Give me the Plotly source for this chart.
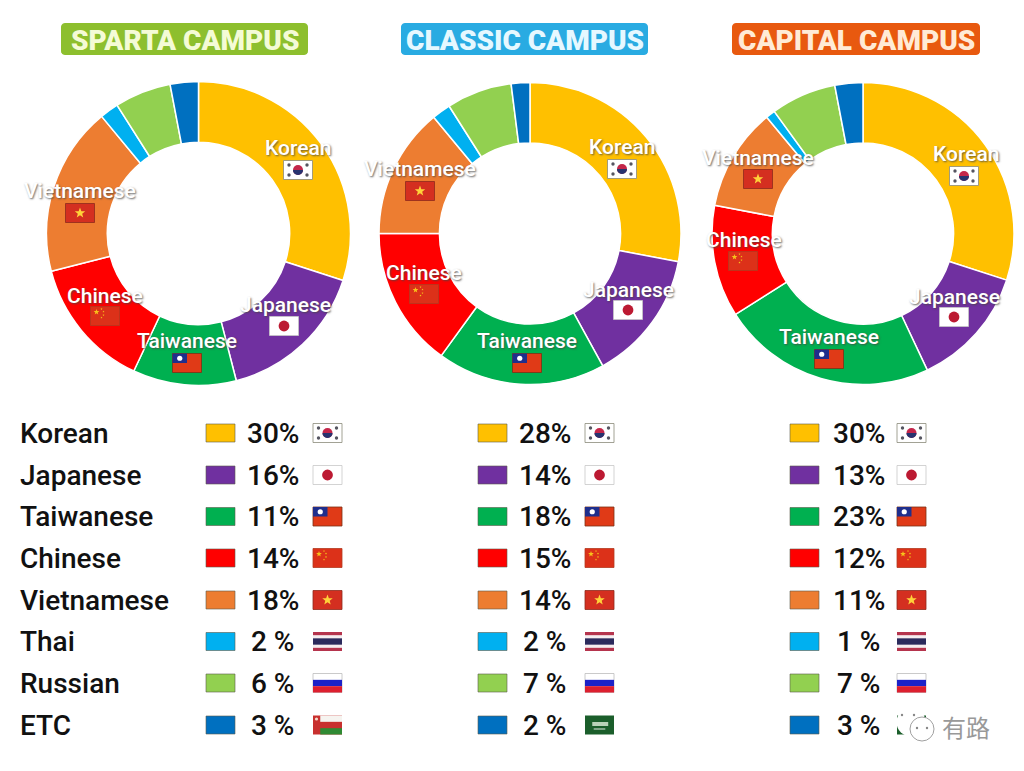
import math
import plotly.graph_objects as go

W, H = 1024, 771

languages = ["Korean", "Japanese", "Taiwanese", "Chinese", "Vietnamese", "Thai", "Russian", "ETC"]
colors = ["#FFC000", "#7030A0", "#00B050", "#FF0000", "#ED7D31", "#00B0F0", "#92D050", "#0070C0"]
campus_names = ["SPARTA CAMPUS", "CLASSIC CAMPUS", "CAPITAL CAMPUS"]
badge_colors = ["#8DBF2E", "#29ABE2", "#E8590F"]
badge_text = ["#F4FBD6", "#E6F8FF", "#FFEBD6"]
sparta = [30, 16, 11, 14, 18, 2, 6, 3]
classic = [28, 14, 18, 15, 14, 2, 7, 2]
capital = [30, 13, 23, 12, 11, 1, 7, 3]
campus_values = [sparta, classic, capital]
etc_flags = ["oman", "saudi", "saudi"]
flag_keys = ["korea", "japan", "taiwan", "china", "vietnam", "thailand", "russia"]

# layout constants (pixels)
centers = [(198.5, 233.5, 152), (530, 233.5, 151), (863, 233.5, 151)]
badges = [(61, 308), (401, 648), (732, 980)]
swatch_x = [206, 478, 790]
pct_x = [273, 545, 859]
flag_x = [327.5, 599.5, 911.5]
row_y = [433, 475, 516.5, 558, 600, 641.5, 683, 725]
donut_labels = [
    [(298, 148), (285, 305), (187, 341), (105, 296), (80, 191)],
    [(622, 147), (628, 290), (527, 341), (424, 273), (420, 169)],
    [(966, 154), (954, 297), (829, 337), (744, 240), (758, 158)],
]
donut_flags = [
    [(298, 170), (284, 326), (187, 363), (105, 316), (80, 213)],
    [(622, 169), (628, 310), (527, 363), (424, 294), (420, 191)],
    [(964, 176), (954, 317), (829, 359), (743, 261), (758, 179)],
]

px = lambda x: x / W
py = lambda y: 1 - y / H
shapes = []
annotations = []


def rect(x0, y0, x1, y1, fill, line=None, lw=0.8):
    shapes.append(dict(type="rect", xref="paper", yref="paper", x0=px(x0), x1=px(x1), y0=py(y0), y1=py(y1),
                       fillcolor=fill, line=dict(color=line or fill, width=lw if line else 0)))


def circle(cx, cy, r, fill, line=None, lw=0.8):
    shapes.append(dict(type="circle", xref="paper", yref="paper", x0=px(cx - r), x1=px(cx + r),
                       y0=py(cy + r), y1=py(cy - r), fillcolor=fill,
                       line=dict(color=line or fill, width=lw if line else 0)))


def path(points, fill, close=True):
    d = "M " + " L ".join(f"{px(x):.5f},{py(y):.5f}" for x, y in points) + (" Z" if close else "")
    shapes.append(dict(type="path", xref="paper", yref="paper", path=d, fillcolor=fill, line=dict(width=0)))


def star(cx, cy, r, fill):
    pts = []
    for i in range(10):
        a = -math.pi / 2 + i * math.pi / 5
        rr = r if i % 2 == 0 else r * 0.42
        pts.append((cx + rr * math.cos(a), cy + rr * math.sin(a)))
    path(pts, fill)


def rounded(x0, y0, x1, y1, r, fill):
    pts = []
    for cx, cy, a0 in [(x1 - r, y0 + r, -90), (x1 - r, y1 - r, 0), (x0 + r, y1 - r, 90), (x0 + r, y0 + r, 180)]:
        for k in range(6):
            a = math.radians(a0 + k * 18)
            pts.append((cx + r * math.cos(a), cy + r * math.sin(a)))
    path(pts, fill)


def flag(kind, cx, cy, w=29, h=19):
    x0, x1, y0, y1 = cx - w / 2, cx + w / 2, cy - h / 2, cy + h / 2
    u = h / 19
    if kind == "korea":
        rect(x0, y0, x1, y1, "#FFFFFF", "#8A8A7A")
        for sx in (-1, 1):
            for sy in (-1, 1):
                circle(cx + sx * 9 * u, cy + sy * 5 * u, 1.7 * u, "#555560")
        circle(cx, cy, 5 * u, "#C4264A")
        path([(cx + 5 * u * math.cos(math.radians(a)), cy + 5 * u * math.sin(math.radians(a)))
              for a in range(0, 181, 15)], "#27336F")
    elif kind == "japan":
        rect(x0, y0, x1, y1, "#FFFFFF", "#C8C8C8")
        circle(cx, cy, 5.4 * u, "#BC1A32")
    elif kind == "taiwan":
        rect(x0, y0, x1, y1, "#E03A17", "#7C3014")
        rect(x0, y0, cx, cy, "#1F2E8C")
        circle(x0 + w / 4, y0 + h / 4, 2.6 * u, "#FFFFFF")
    elif kind == "china":
        rect(x0, y0, x1, y1, "#DC3119", "#B23A20")
        star(x0 + 6 * u, y0 + 5.5 * u, 3 * u, "#F7C21B")
        for dx, dy in [(11, 2.5), (13, 5), (13, 8.5), (11, 11)]:
            star(x0 + dx * u, y0 + dy * u, 1.1 * u, "#F7C21B")
    elif kind == "vietnam":
        rect(x0, y0, x1, y1, "#D42F20", "#8E2A1C")
        star(cx, cy, 5.5 * u, "#FFD23A")
    elif kind == "thailand":
        rect(x0, y0, x1, y1, "#B5344D")
        rect(x0, y0 + h / 6, x1, y1 - h / 6, "#F5EDEF")
        rect(x0, y0 + h / 3, x1, y1 - h / 3, "#2B2A5C")
    elif kind == "russia":
        rect(x0, y0, x1, y1, "#FFFFFF", "#BDBDBD")
        rect(x0, cy - h / 6, x1, cy + h / 6, "#1C22C8")
        rect(x0, cy + h / 6, x1, y1, "#DD1F2F")
    elif kind == "oman":
        rect(x0, y0, x1, y1, "#C8302E")
        rect(x0 + w / 4, y0, x1, y0 + h / 3, "#F6F4F0")
        rect(x0 + w / 4, y1 - h / 3, x1, y1, "#2F8A33")
        circle(x0 + 3.5 * u, y0 + 3.5 * u, 1.6 * u, "#F3D9C8")
    elif kind == "saudi":
        rect(x0, y0, x1, y1, "#1B5E2B")
        rect(x0 + w * 0.25, cy - 3 * u, x1 - w * 0.2, cy + 1 * u, "#B9D2B8")
        rect(x0 + w * 0.3, cy + 3.5 * u, x1 - w * 0.3, cy + 4.5 * u, "#E6EFE6")


def text(x, y, s, size, color="#111111", family="Roboto", weight=400, shadow=None, anchor="center"):
    font = dict(family=family, size=size, color=color, weight=weight)
    if shadow:
        font["shadow"] = shadow
    annotations.append(dict(xref="paper", yref="paper", x=px(x), y=py(y), text=s, showarrow=False,
                            xanchor=anchor, yanchor="middle", font=font))


fig = go.Figure()
for c, values in enumerate(campus_values):
    cx, cy, r = centers[c]
    fig.add_trace(go.Pie(
        values=values, labels=languages, sort=False, direction="clockwise", rotation=0, hole=0.6,
        marker=dict(colors=colors, line=dict(color="#FFFFFF", width=1.5)), textinfo="none", hoverinfo="label+percent",
        showlegend=False, domain=dict(x=[px(cx - r), px(cx + r)], y=[py(cy + r), py(cy - r)]),
    ))
    x0, x1 = badges[c]
    rounded(x0, 23, x1, 55, 4, badge_colors[c])
    text((x0 + x1) / 2, 40, campus_names[c], 28, badge_text[c], weight=900)
    for i in range(5):
        lx, ly = donut_labels[c][i]
        text(lx, ly, languages[i], 21, "#FFFFFF", weight=500, shadow="1px 1px 2px rgba(70,70,70,0.8)")
        fx, fy = donut_flags[c][i]
        flag(flag_keys[i], fx, fy)
    for i, lang in enumerate(languages):
        y = row_y[i]
        if c == 0:
            text(18, y, lang, 28, weight=500, anchor="left")
        rect(swatch_x[c], y - 9, swatch_x[c] + 29, y + 9, colors[i], "#5A5A4A", 0.6)
        v = values[i]
        text(pct_x[c], y, f"{v}%" if v >= 10 else f"{v} %", 28, weight=500)
        flag(flag_keys[i] if i < 7 else etc_flags[c], flag_x[c], y)

# watermark
circle(911, 722, 14.5, "#FFFFFF")
circle(922, 729, 12, "#FFFFFF", "#A0A0A0", 1)
for dx, dy in [(902, 715), (914, 715), (917, 728), (927, 728)]:
    circle(dx, dy, 1.2, "#888888")
text(966, 726, "有路", 24, "#999999", family="Noto Sans CJK SC")

fig.update_layout(width=W, height=H, margin=dict(l=0, r=0, t=0, b=0), paper_bgcolor="#FFFFFF",
                  plot_bgcolor="#FFFFFF", shapes=shapes, annotations=annotations)
fig.write_html("out.html", config={"displayModeBar": False},
               post_script="document.body.style.margin='0';")
